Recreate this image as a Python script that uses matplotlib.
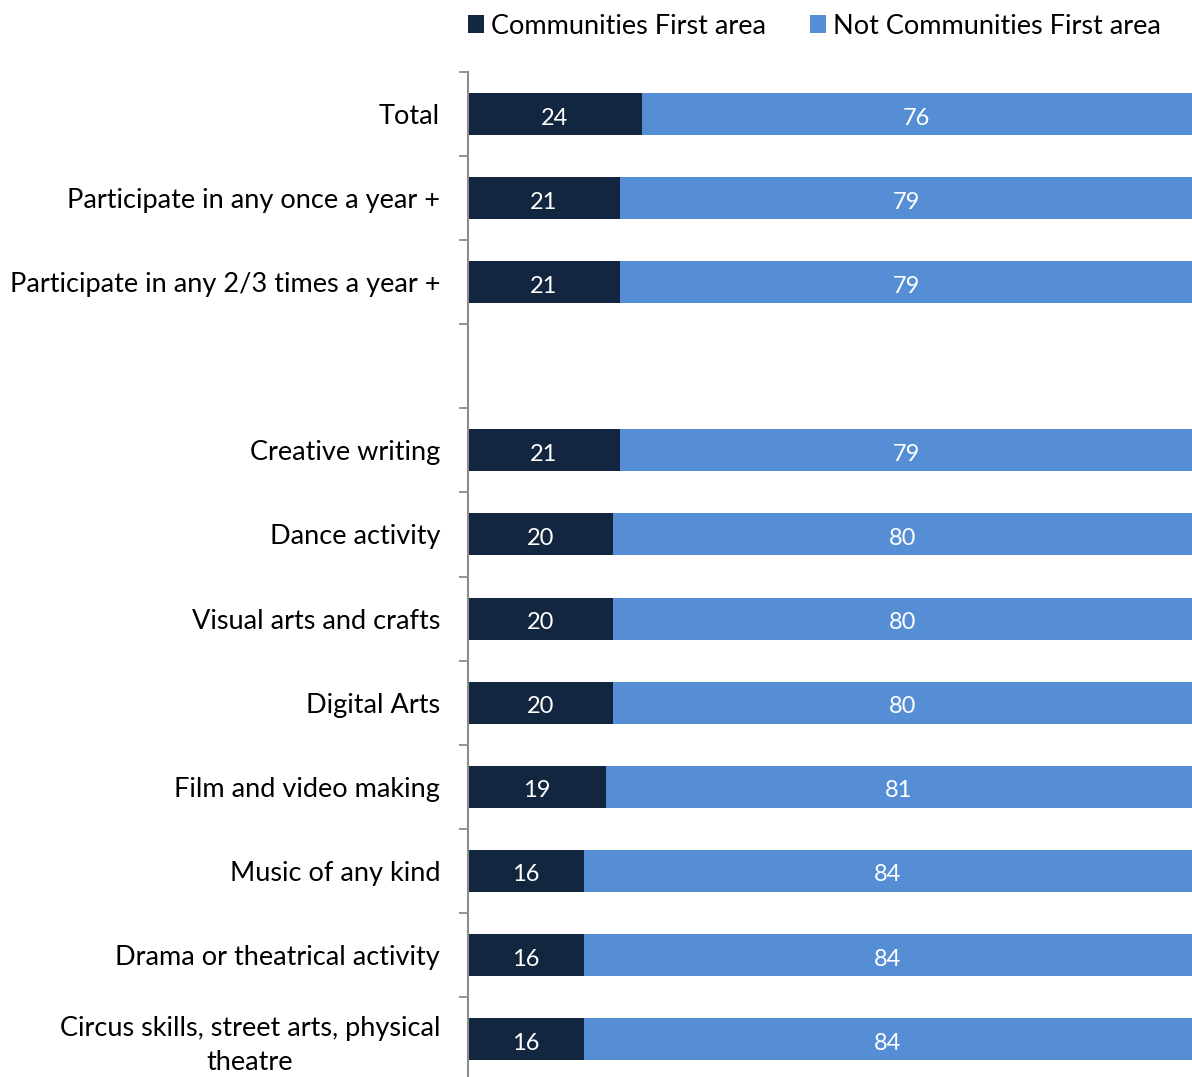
import numpy as np
import matplotlib.pyplot as plt

categories = [
    "Total",
    "Participate in any once a year +",
    "Participate in any 2/3 times a year +",
    "",
    "Creative writing",
    "Dance activity",
    "Visual arts and crafts",
    "Digital Arts",
    "Film and video making",
    "Music of any kind",
    "Drama or theatrical activity",
    "Circus skills, street arts, physical\ntheatre",
]
cf_area = [24, 21, 21, None, 21, 20, 20, 20, 19, 16, 16, 16]
not_cf_area = [76, 79, 79, None, 79, 80, 80, 80, 81, 84, 84, 84]

dark = "#12263F"
light = "#558ED5"
plt.rcParams['font.family'] = ['Lato', 'DejaVu Sans']

fig = plt.figure(figsize=(11.92, 10.77), dpi=100)
ax = fig.add_axes([468 / 1192, -4 / 1077, 1 - 468 / 1192, 1009 / 1077])

y = np.arange(len(categories))
for i, (a, b) in enumerate(zip(cf_area, not_cf_area)):
    if a is None:
        continue
    ax.barh(i, a, height=0.5, color=dark, label="Communities First area" if i == 0 else None)
    ax.barh(i, b, left=a, height=0.5, color=light, label="Not Communities First area" if i == 0 else None)
    ax.text(a / 2, i + 0.05, str(a), ha="center", va="center", color="white", fontsize=17)
    ax.text(a + b / 2, i + 0.05, str(b), ha="center", va="center", color="white", fontsize=17)

ax.set_xlim(0, 100)
ax.set_ylim(len(categories) - 0.5, -0.5)
ax.set_yticks(y)
ax.set_yticklabels(categories, fontsize=19.5, ha="right", multialignment="center", linespacing=1.45)
ax.set_yticks(np.arange(len(categories) + 1) - 0.5, minor=True)
ax.tick_params(axis="y", which="major", length=0, pad=20)
ax.tick_params(axis="y", which="minor", length=6.5, width=1.3, color="#8C8C8C")
ax.set_xticks([])
for s in ["top", "right", "bottom"]:
    ax.spines[s].set_visible(False)
ax.spines["left"].set_color("#8C8C8C")
ax.spines["left"].set_linewidth(1.5)

fig.legend(loc="center left", bbox_to_anchor=(468 / 1192, 1 - 26 / 1077), ncol=2, frameon=False,
           fontsize=19.5, handlelength=0.6, handleheight=0.6, handletextpad=0.26,
           columnspacing=1.6, borderpad=0, borderaxespad=0)

fig.savefig("out.png", dpi=100)
